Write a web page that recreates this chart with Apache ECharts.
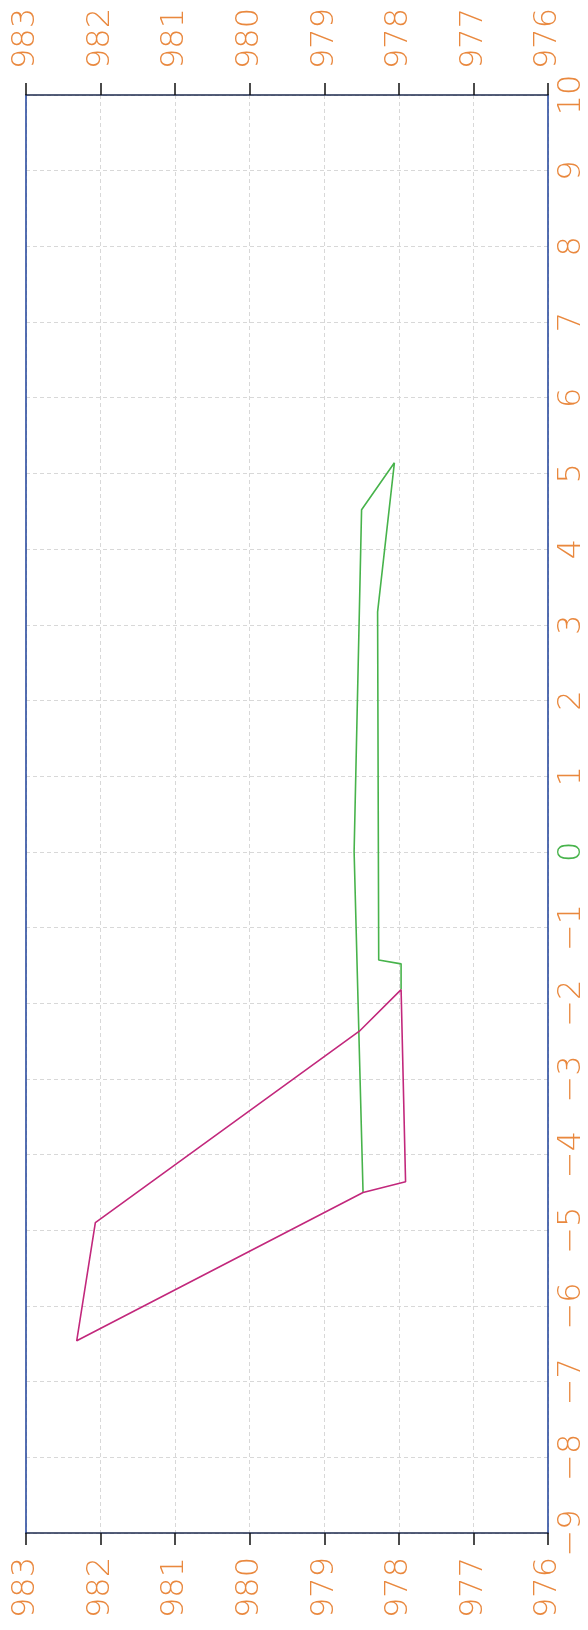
<!DOCTYPE html>
<html>
<head>
<meta charset="utf-8">
<script src="https://cdn.jsdelivr.net/npm/echarts@6/dist/echarts.min.js"></script>
<style>
html,body{margin:0;padding:0;background:#fff;}
#c{width:588px;height:1630px;}
</style>
</head>
<body>
<div id="c"></div>
<script>
// Horizontal axis (gravity-like values), vertical axis (position)
var xTicks = [976, 977, 978, 979, 980, 981, 982, 983];
var yTicks = [-9, -8, -7, -6, -5, -4, -3, -2, -1, 0, 1, 2, 3, 4, 5, 6, 7, 8, 9, 10];

// Green polyline
var greenX = [978.48, 978.60, 978.50, 978.06, 978.285, 978.27, 977.97, 977.97];
var greenY = [-4.50, 0.00, 4.52, 5.14, 3.17, -1.43, -1.48, -1.82];

// Magenta polygon
var magentaX = [977.97, 978.53, 982.07, 982.32, 978.48, 977.91, 977.97];
var magentaY = [-1.82, -2.37, -4.90, -6.46, -4.50, -4.36, -1.82];

function pairs(xs, ys) { return xs.map(function (x, i) { return [x, ys[i]]; }); }

var ORANGE = '#e9883e';
var GREEN = '#47b34b';
var MAGENTA = '#c2287c';
var BLUE = '#2b4c9f';
var DARK = '#1c2a4e';
var GRIDC = '#d8d8d8';
var FONT = 'DejaVu Sans';
var FS = 32;

function minusFmt(v) { return String(v).replace('-', '\u2212'); }

var xBase = {
  type: 'value',
  min: xTicks[0],
  max: xTicks[xTicks.length - 1],
  interval: 1,
  inverse: true,
  axisLine: { show: true, onZero: false, lineStyle: { color: DARK, width: 1.5 } },
  axisTick: { show: true, inside: false, length: 12, lineStyle: { color: '#111', width: 1.5 } },
  axisLabel: { color: ORANGE, fontSize: FS, fontFamily: FONT, fontWeight: 200 }
};

var chart = echarts.init(document.getElementById('c'));
chart.setOption({
  animation: false,
  backgroundColor: '#fff',
  grid: { left: 26, right: 34, top: 95, bottom: 97, show: false, containLabel: false },
  xAxis: [
    Object.assign({}, xBase, {
      position: 'top',
      axisLabel: Object.assign({}, xBase.axisLabel, { rotate: -90, margin: 26 }),
      splitLine: { show: true, lineStyle: { color: GRIDC, type: [4, 3], width: 1 } }
    }),
    Object.assign({}, xBase, {
      position: 'bottom',
      axisLabel: Object.assign({}, xBase.axisLabel, { rotate: 90, margin: 24 }),
      splitLine: { show: false }
    })
  ],
  yAxis: [
    {
      type: 'value',
      position: 'right',
      min: yTicks[0],
      max: yTicks[yTicks.length - 1],
      interval: 1,
      axisLine: { show: true, onZero: false, lineStyle: { color: BLUE, width: 1.6 } },
      axisTick: { show: false },
      axisLabel: {
        rotate: 90,
        margin: 8,
        fontSize: FS,
        fontFamily: FONT,
        fontWeight: 200,
        formatter: minusFmt,
        color: function (v) { return Number(v) === 0 ? GREEN : ORANGE; }
      },
      splitLine: { show: true, lineStyle: { color: GRIDC, type: [4, 3], width: 1 } }
    },
    {
      type: 'value',
      position: 'left',
      min: yTicks[0],
      max: yTicks[yTicks.length - 1],
      interval: 1,
      axisLine: { show: true, onZero: false, lineStyle: { color: BLUE, width: 1.6 } },
      axisTick: { show: false },
      axisLabel: { show: false },
      splitLine: { show: false }
    }
  ],
  series: [
    {
      type: 'line',
      xAxisIndex: 0,
      yAxisIndex: 0,
      data: pairs(greenX, greenY),
      symbol: 'none',
      lineStyle: { color: GREEN, width: 1.6 },
      z: 3
    },
    {
      type: 'line',
      xAxisIndex: 0,
      yAxisIndex: 0,
      data: pairs(magentaX, magentaY),
      symbol: 'none',
      lineStyle: { color: MAGENTA, width: 1.6 },
      z: 4
    }
  ]
});
</script>
</body>
</html>
